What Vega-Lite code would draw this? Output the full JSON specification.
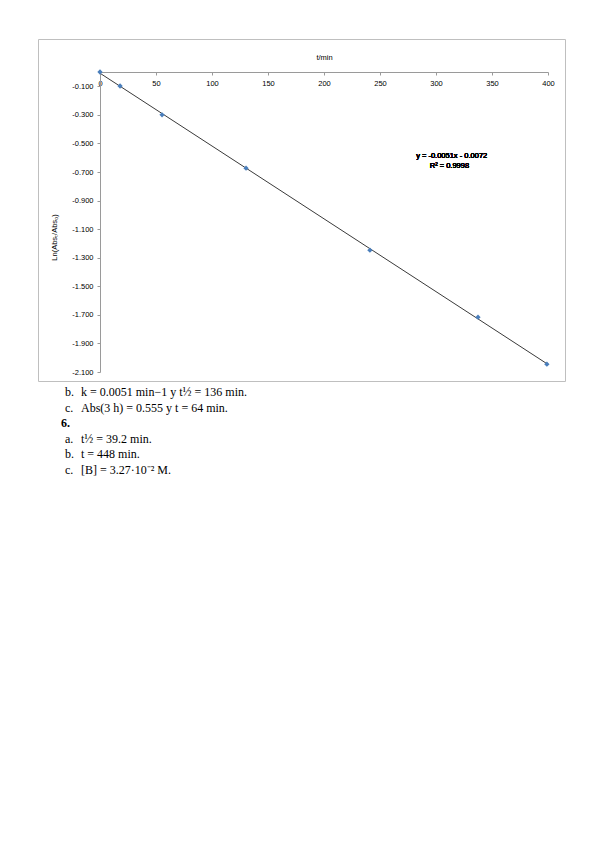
{
  "$schema": "https://vega.github.io/schema/vega-lite/v6.json",
  "padding": {"left": 37, "top": 38, "right": 0, "bottom": 0},
  "background": "white",
  "spacing": 4,
  "config": {
    "font": "Liberation Sans",
    "axis": {"grid": false, "labelOverlap": false, "labelFlush": false, "labelBound": false}
  },
  "datasets": {
    "kinetics": [
      {"t": 0, "lnRatio": 0},
      {"t": 17.9, "lnRatio": -0.098},
      {"t": 55.4, "lnRatio": -0.3},
      {"t": 130.4, "lnRatio": -0.673},
      {"t": 241, "lnRatio": -1.247},
      {"t": 337.5, "lnRatio": -1.716},
      {"t": 399, "lnRatio": -2.045}
    ],
    "answers": [
      {"line": 0, "tag": "b.", "body": "k = 0.0051 min−1 y t½ = 136 min."},
      {"line": 1, "tag": "c.", "body": "Abs(3 h) = 0.555 y t = 64 min."},
      {"line": 2, "tag": "6.", "body": ""},
      {"line": 3, "tag": "a.", "body": "t½ = 39.2 min."},
      {"line": 4, "tag": "b.", "body": "t = 448 min."},
      {"line": 5, "tag": "c.", "body": "[B] = 3.27·10⁻² M."}
    ]
  },
  "vconcat": [
    {
      "width": 527,
      "height": 342,
      "view": {"stroke": "#bfbfbf", "strokeWidth": 1},
      "data": {"name": "kinetics"},
      "encoding": {
        "x": {
          "field": "t", "type": "quantitative",
          "scale": {"domain": [0, 400], "range": [62, 510], "nice": false, "zero": false},
          "axis": {
            "orient": "bottom", "offset": -309,
            "values": [0, 50, 100, 150, 200, 250, 300, 350, 400],
            "title": "t/min", "titleY": -15, "titleBaseline": "middle",
            "titleFontSize": 7.5, "titleFontWeight": "normal", "titleColor": "#000000",
            "labelFontSize": 7.5, "labelColor": "#000000", "labelPadding": 4,
            "tickSize": 3, "tickColor": "#9a9a9a", "domainColor": "#9a9a9a"
          }
        },
        "y": {
          "field": "lnRatio", "type": "quantitative",
          "scale": {"domain": [-2.1, 0], "range": [333, 33], "nice": false, "zero": false},
          "axis": {
            "orient": "left", "offset": -62,
            "values": [-0.1, -0.3, -0.5, -0.7, -0.9, -1.1, -1.3, -1.5, -1.7, -1.9, -2.1],
            "labelExpr": "replace(format(datum.value, '.3f'), '−', '-')",
            "title": "Ln(Absₜ/Abs₀)", "titleX": -46, "titleY": 198, "titleAngle": -90,
            "titleBaseline": "middle", "titleAlign": "center",
            "titleFontSize": 7.5, "titleFontWeight": "normal", "titleColor": "#000000",
            "labelFontSize": 7.5, "labelColor": "#000000", "labelPadding": 4,
            "tickSize": 3, "tickColor": "#9a9a9a", "domainColor": "#9a9a9a"
          }
        }
      },
      "layer": [
        {
          "mark": {"type": "line", "color": "#3a3a3a", "strokeWidth": 1},
          "transform": [{"regression": "lnRatio", "on": "t", "extent": [0, 400]}]
        },
        {
          "mark": {"type": "point", "shape": "diamond", "filled": true, "color": "#4a7ebb", "size": 28, "opacity": 1}
        },
        {
          "mark": {"type": "text", "fontSize": 7.5, "color": "#000000", "align": "center", "baseline": "middle"},
          "encoding": {
            "x": {"datum": 314, "type": "quantitative"},
            "y": {"datum": -0.588, "type": "quantitative"},
            "text": {"value": "y = -0.0051x - 0.0072"}
          }
        },
        {
          "mark": {"type": "text", "fontSize": 7.5, "color": "#000000", "align": "center", "baseline": "middle"},
          "encoding": {
            "x": {"datum": 312, "type": "quantitative"},
            "y": {"datum": -0.658, "type": "quantitative"},
            "text": {"value": "R² = 0.9998"}
          }
        }
      ]
    },
    {
      "width": 527,
      "height": 78,
      "view": {"stroke": null},
      "data": {"name": "answers"},
      "encoding": {
        "y": {"field": "line", "type": "ordinal", "scale": {"type": "point", "padding": 0}, "axis": null}
      },
      "layer": [
        {
          "transform": [{"filter": "datum.body !== ''"}],
          "mark": {"type": "text", "font": "Liberation Serif", "fontSize": 12, "align": "left", "baseline": "middle", "color": "#000000"},
          "encoding": {
            "x": {"datum": 27, "type": "quantitative", "scale": {"domain": [0, 527], "nice": false}, "axis": null},
            "text": {"field": "tag"}
          }
        },
        {
          "transform": [{"filter": "datum.body !== ''"}],
          "mark": {"type": "text", "font": "Liberation Serif", "fontSize": 12, "align": "left", "baseline": "middle", "color": "#000000"},
          "encoding": {
            "x": {"datum": 43, "type": "quantitative"},
            "text": {"field": "body"}
          }
        },
        {
          "transform": [{"filter": "datum.body === ''"}],
          "mark": {"type": "text", "font": "Liberation Serif", "fontSize": 12, "fontWeight": "bold", "align": "left", "baseline": "middle", "color": "#000000"},
          "encoding": {
            "x": {"datum": 23, "type": "quantitative"},
            "text": {"field": "tag"}
          }
        }
      ]
    }
  ]
}
